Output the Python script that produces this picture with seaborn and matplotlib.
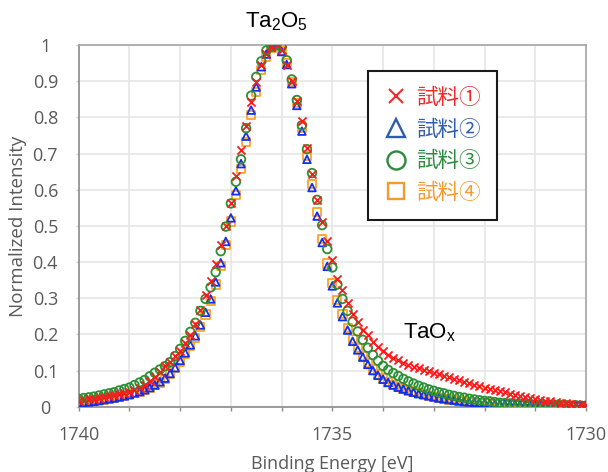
import numpy as np
import matplotlib
matplotlib.use("Agg")
import matplotlib.pyplot as plt
from matplotlib.lines import Line2D
import seaborn as sns

# ---------------- data ----------------
energy = np.linspace(1740.0, 1730.0, 101)   # measurement grid, 0.1 eV steps

sample1 = [  # 試料① (red x)
    0.016, 0.018, 0.020, 0.022, 0.024, 0.026, 0.029, 0.032, 0.035, 0.038,
    0.042, 0.047, 0.053, 0.060, 0.070, 0.082, 0.097, 0.112, 0.125, 0.140,
    0.155, 0.175, 0.198, 0.230, 0.268, 0.308, 0.348, 0.395, 0.447, 0.500,
    0.564, 0.638, 0.710, 0.775, 0.843, 0.898, 0.945, 0.975, 0.994, 1.000,
    0.986, 0.946, 0.900, 0.846, 0.790, 0.715, 0.643, 0.572, 0.512, 0.458,
    0.405, 0.354, 0.322, 0.287, 0.257, 0.233, 0.213, 0.197, 0.180, 0.166,
    0.153, 0.142, 0.135, 0.128, 0.122, 0.116, 0.111, 0.106, 0.102, 0.098,
    0.094, 0.090, 0.086, 0.082, 0.078, 0.074, 0.069, 0.065, 0.061, 0.057,
    0.053, 0.050, 0.047, 0.043, 0.040, 0.036, 0.033, 0.030, 0.027, 0.024,
    0.021, 0.019, 0.017, 0.015, 0.013, 0.011, 0.010, 0.008, 0.007, 0.005,
    0.004]

sample2 = [  # 試料② (blue triangle)
    0.010, 0.012, 0.013, 0.015, 0.017, 0.020, 0.022, 0.024, 0.027, 0.030,
    0.034, 0.038, 0.042, 0.047, 0.053, 0.060, 0.069, 0.079, 0.092, 0.108,
    0.128, 0.149, 0.171, 0.196, 0.226, 0.261, 0.298, 0.345, 0.398, 0.457,
    0.522, 0.597, 0.672, 0.748, 0.820, 0.884, 0.940, 0.975, 0.995, 1.000,
    0.982, 0.946, 0.893, 0.833, 0.762, 0.684, 0.606, 0.527, 0.454, 0.388,
    0.334, 0.287, 0.249, 0.212, 0.181, 0.157, 0.137, 0.117, 0.100, 0.087,
    0.076, 0.067, 0.060, 0.054, 0.049, 0.044, 0.040, 0.036, 0.033, 0.030,
    0.027, 0.024, 0.022, 0.020, 0.018, 0.016, 0.014, 0.013, 0.012, 0.011,
    0.010, 0.009, 0.008, 0.007, 0.007, 0.006, 0.006, 0.005, 0.005, 0.004,
    0.004, 0.004, 0.003, 0.003, 0.004, 0.003, 0.003, 0.003, 0.002, 0.003,
    0.002]

sample3 = [  # 試料③ (green circle)
    0.022, 0.024, 0.026, 0.028, 0.031, 0.034, 0.037, 0.040, 0.045, 0.049,
    0.053, 0.060, 0.067, 0.074, 0.084, 0.094, 0.103, 0.112, 0.123, 0.140,
    0.160, 0.182, 0.207, 0.232, 0.265, 0.298, 0.330, 0.372, 0.430, 0.498,
    0.562, 0.622, 0.684, 0.770, 0.860, 0.912, 0.955, 0.985, 0.997, 1.000,
    0.995, 0.958, 0.905, 0.848, 0.778, 0.712, 0.646, 0.572, 0.502, 0.436,
    0.385, 0.338, 0.298, 0.265, 0.235, 0.208, 0.185, 0.163, 0.143, 0.127,
    0.113, 0.102, 0.093, 0.085, 0.077, 0.070, 0.064, 0.058, 0.053, 0.048,
    0.044, 0.040, 0.037, 0.033, 0.030, 0.027, 0.025, 0.022, 0.020, 0.018,
    0.016, 0.015, 0.013, 0.011, 0.010, 0.009, 0.008, 0.008, 0.007, 0.006,
    0.006, 0.005, 0.005, 0.005, 0.004, 0.004, 0.004, 0.003, 0.004, 0.003,
    0.003]

sample4 = [  # 試料④ (orange square)
    0.011, 0.012, 0.014, 0.016, 0.018, 0.020, 0.022, 0.025, 0.027, 0.030,
    0.033, 0.037, 0.041, 0.046, 0.052, 0.059, 0.067, 0.077, 0.090, 0.106,
    0.125, 0.146, 0.168, 0.191, 0.220, 0.255, 0.292, 0.338, 0.390, 0.448,
    0.512, 0.585, 0.658, 0.733, 0.807, 0.871, 0.932, 0.968, 0.992, 1.000,
    0.984, 0.950, 0.898, 0.840, 0.772, 0.692, 0.616, 0.538, 0.464, 0.396,
    0.343, 0.295, 0.256, 0.218, 0.186, 0.162, 0.141, 0.120, 0.103, 0.089,
    0.078, 0.068, 0.061, 0.055, 0.050, 0.045, 0.041, 0.037, 0.034, 0.030,
    0.027, 0.025, 0.022, 0.020, 0.018, 0.016, 0.015, 0.013, 0.012, 0.011,
    0.010, 0.009, 0.008, 0.008, 0.007, 0.006, 0.006, 0.005, 0.005, 0.005,
    0.004, 0.004, 0.004, 0.003, 0.003, 0.004, 0.003, 0.003, 0.002, 0.003,
    0.002]

labels = ["試料①", "試料②", "試料③", "試料④"]
x_ticks = [1740, 1739, 1738, 1737, 1736, 1735, 1734, 1733, 1732, 1731, 1730]
x_ticklabels = ["1740", "", "", "", "", "1735", "", "", "", "", "1730"]
y_ticks = [0, 0.1, 0.2, 0.3, 0.4, 0.5, 0.6, 0.7, 0.8, 0.9, 1.0]
y_ticklabels = ["0", "0.1", "0.2", "0.3", "0.4", "0.5", "0.6", "0.7", "0.8", "0.9", "1"]

# ---------------- style ----------------
sns.set_theme(style="white")
plt.rcParams['font.family'] = ['Open Sans', 'Noto Sans CJK JP', 'DejaVu Sans']
plt.rcParams['mathtext.fontset'] = 'custom'
plt.rcParams['mathtext.rm'] = 'Liberation Sans'
plt.rcParams['mathtext.it'] = 'Liberation Sans:italic'

plot_colors = ["#FF1A1A", "#1030F0", "#2A9034", "#FFA226"]
legend_colors = ["#EE2A2A", "#2F5DAE", "#2E8A3C", "#F39A30"]
gray = "#595959"

fig = plt.figure(figsize=(6.08, 4.72), dpi=100)
ax = fig.add_axes([0.1294, 0.1383, 0.8344, 0.7663])

all_series = [sample1, sample2, sample3, sample4]
markers = {1: "^", 2: "o", 3: "s"}
sizes = {1: 30, 2: 38, 3: 34}
for idx in [3, 1, 2, 0]:
    vals = all_series[idx]
    c = plot_colors[idx]
    if idx == 0:
        sns.scatterplot(x=energy, y=vals, ax=ax, marker="x", s=34, color=c,
                        linewidth=1.3, zorder=5)
    else:
        sns.scatterplot(x=energy, y=vals, ax=ax, marker=markers[idx],
                        s=sizes[idx], color=c, facecolor="none", edgecolor=c,
                        linewidth=1.3, zorder=4)

ax.set_xlim(1740, 1730)
ax.set_ylim(0, 1)
ax.set_xticks(x_ticks)
ax.set_xticklabels(x_ticklabels)
ax.set_yticks(y_ticks)
ax.set_yticklabels(y_ticklabels)

ax.grid(True, color="#E6E6E6", linewidth=1.2, zorder=0)
ax.set_axisbelow(True)
for side in ["left", "bottom"]:
    ax.spines[side].set_color("#8C8C8C")
    ax.spines[side].set_linewidth(1.2)
for side in ["top", "right"]:
    ax.spines[side].set_color("#A6A6A6")
    ax.spines[side].set_linewidth(1.2)

ax.tick_params(axis="x", which="major", direction="out", length=3, width=1,
               color="#8C8C8C", pad=11, labelsize=13, labelcolor=gray, bottom=True)
ax.tick_params(axis="y", which="major", direction="out", length=2, width=1,
               color="#D0D0D0", pad=22, labelsize=13, labelcolor=gray, left=True)
for lab in ax.get_yticklabels():
    lab.set_horizontalalignment("center")

ax.set_xlabel("Binding Energy [eV]", fontsize=13, color=gray)
ax.set_ylabel("Normalized Intensity", fontsize=13.5, color=gray)
ax.xaxis.set_label_coords(0.5, -0.134)
ax.yaxis.set_label_coords(-0.102, 0.5)

# annotations
fig.text(276 / 608, 1 - 22 / 472, r"Ta$\mathregular{_2}$O$\mathregular{_5}$",
         fontsize=16, family="Liberation Sans", color="black",
         ha="center", va="center")
fig.text(403 / 608, 1 - 333 / 472, r"TaO$\mathregular{_x}$",
         fontsize=16, family="Liberation Sans", color="black",
         ha="left", va="center")

# legend
handles = [
    Line2D([], [], linestyle="", marker="x", markersize=10, mew=1.5,
           color=legend_colors[0]),
    Line2D([], [], linestyle="", marker="^", markersize=13, mew=1.7,
           mfc="none", mec=legend_colors[1]),
    Line2D([], [], linestyle="", marker="o", markersize=13, mew=1.7,
           mfc="none", mec=legend_colors[2]),
    Line2D([], [], linestyle="", marker="s", markersize=12, mew=1.7,
           mfc="none", mec=legend_colors[3]),
]
leg = ax.legend(handles, labels, loc="upper left", bbox_to_anchor=(0.570, 0.929),
                borderaxespad=0, frameon=True, fancybox=False,
                edgecolor="#1A1A1A", facecolor="white", framealpha=1,
                prop={"family": ["Noto Sans CJK JP", "DejaVu Sans"], "size": 15.5},
                handlelength=1.1, handletextpad=0.4, borderpad=0.75,
                labelspacing=0.45)
leg.get_frame().set_linewidth(1.5)
for t, c in zip(leg.get_texts(), legend_colors):
    t.set_color(c)

fig.savefig("out.png", dpi=100)
